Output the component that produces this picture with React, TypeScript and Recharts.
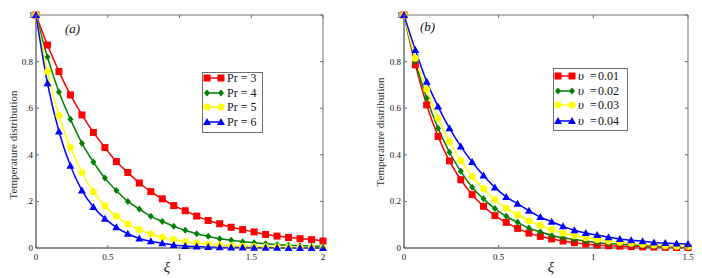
import React from "react";
import {
  LineChart,
  Line,
  XAxis,
  YAxis,
  Legend,
  Label,
  ReferenceArea
} from "recharts";

const FONT = '"Liberation Serif", "Times New Roman", serif';
const FRAME = "#6e6e6e";

// panel (a): xi values and Pr curves
const xiA = [0, 0.08, 0.16, 0.24, 0.32, 0.4, 0.48, 0.56, 0.64, 0.72, 0.8, 0.88, 0.96, 1.04, 1.12, 1.2, 1.28, 1.36, 1.44, 1.52, 1.6, 1.68, 1.76, 1.84, 1.92, 2];
const pr3 = [1, 0.871, 0.757, 0.657, 0.571, 0.496, 0.431, 0.371, 0.324, 0.279, 0.242, 0.211, 0.182, 0.16, 0.137, 0.118, 0.104, 0.089, 0.079, 0.069, 0.058, 0.051, 0.045, 0.04, 0.036, 0.03];
const pr4 = [1, 0.82, 0.67, 0.553, 0.45, 0.369, 0.3, 0.247, 0.2, 0.167, 0.136, 0.114, 0.093, 0.076, 0.061, 0.05, 0.04, 0.033, 0.027, 0.023, 0.018, 0.014, 0.012, 0.01, 0.008, 0.007];
const pr5 = [1, 0.757, 0.569, 0.431, 0.324, 0.241, 0.181, 0.136, 0.103, 0.079, 0.06, 0.046, 0.036, 0.027, 0.021, 0.016, 0.013, 0.01, 0.008, 0.006, 0.005, 0.004, 0.003, 0.002, 0.002, 0.001];
const pr6 = [1, 0.707, 0.5, 0.353, 0.247, 0.176, 0.126, 0.089, 0.061, 0.041, 0.029, 0.02, 0.013, 0.009, 0.006, 0.004, 0.003, 0.002, 0.002, 0.001, 0.001, 0.001, 0, 0, 0, 0];

// panel (b): xi values and upsilon curves
const xiB = [0, 0.06, 0.12, 0.18, 0.24, 0.3, 0.36, 0.42, 0.48, 0.54, 0.6, 0.66, 0.72, 0.78, 0.84, 0.9, 0.96, 1.02, 1.08, 1.14, 1.2, 1.26, 1.32, 1.38, 1.44, 1.5];
const nu1 = [1, 0.786, 0.614, 0.479, 0.374, 0.293, 0.229, 0.179, 0.139, 0.11, 0.084, 0.064, 0.05, 0.039, 0.03, 0.023, 0.017, 0.013, 0.01, 0.008, 0.006, 0.005, 0.004, 0.003, 0.002, 0.002];
const nu2 = [1, 0.8, 0.643, 0.514, 0.411, 0.329, 0.261, 0.211, 0.169, 0.136, 0.11, 0.086, 0.069, 0.054, 0.044, 0.036, 0.029, 0.023, 0.019, 0.016, 0.013, 0.01, 0.008, 0.007, 0.005, 0.004];
const nu3 = [1, 0.814, 0.681, 0.557, 0.457, 0.376, 0.307, 0.254, 0.207, 0.171, 0.143, 0.117, 0.097, 0.079, 0.064, 0.053, 0.044, 0.036, 0.03, 0.025, 0.02, 0.016, 0.013, 0.01, 0.008, 0.006];
const nu4 = [1, 0.85, 0.714, 0.607, 0.514, 0.436, 0.369, 0.311, 0.26, 0.219, 0.19, 0.16, 0.133, 0.113, 0.093, 0.076, 0.064, 0.056, 0.046, 0.039, 0.033, 0.029, 0.024, 0.021, 0.019, 0.017];

const xTicksA = [0, 0.5, 1, 1.5, 2];
const xTicksB = [0, 0.5, 1, 1.5];
const yTicks = [0, 0.2, 0.4, 0.6, 0.8, 1];
const yLabelsA = ["0", ".2", ".4", ".6", "0.8", "1"];
const yLabelsB = ["0", "0.2", "0.4", "0.6", "0.8", "1"];

const namesA = ["Pr = 3", "Pr = 4", "Pr = 5", "Pr = 6"];
const namesB = ["0.01", "0.02", "0.03", "0.04"];

type Shape = "square" | "diamond" | "circle" | "triangle";
const colors = ["#ff0000", "#008000", "#ffff00", "#0000ff"];
const shapes: Shape[] = ["square", "diamond", "circle", "triangle"];

function Marker({ shape, cx, cy, color }: { shape: Shape; cx: number; cy: number; color: string }) {
  if (shape === "square") return <rect x={cx - 3.5} y={cy - 3.5} width={7} height={7} fill={color} />;
  if (shape === "diamond")
    return <polygon points={`${cx},${cy - 3.5} ${cx + 3},${cy} ${cx},${cy + 3.5} ${cx - 3},${cy}`} fill={color} />;
  if (shape === "circle") return <circle cx={cx} cy={cy} r={3.5} fill={color} />;
  return <polygon points={`${cx},${cy - 4} ${cx + 4},${cy + 3} ${cx - 4},${cy + 3}`} fill={color} />;
}

type PanelProps = {
  x: number;
  width: number;
  plot: { top: number; right: number; bottom: number; left: number };
  xs: number[];
  ys: number[][];
  xMax: number;
  xTicks: number[];
  yLabels: string[];
  names: string[];
  greek: boolean;
  tag: string;
  tagX: number;
  tagY: number;
  yLabX: number;
  yLabY: number;
  xLabX: number;
  legend: { left: number; top: number; w: number; h: number; rows: number[] };
};

const H = 278;
const serif = { fontFamily: FONT };

function Panel(p: PanelProps) {
  const data = p.xs.map((x, i) => ({
    x,
    s0: p.ys[0][i],
    s1: p.ys[1][i],
    s2: p.ys[2][i],
    s3: p.ys[3][i]
  }));
  const top = p.plot.top;
  const bottom = H - p.plot.bottom;
  const left = p.plot.left;
  const right = p.width - p.plot.right;

  const xTick = (t: any) => (
    <g>
      <line x1={t.x} x2={t.x} y1={bottom} y2={bottom - 3} stroke={FRAME} />
      <line x1={t.x} x2={t.x} y1={top} y2={top + 3} stroke={FRAME} />
      <text x={t.x} y={bottom + 12} textAnchor="middle" fontSize={9} style={serif} fill="#111">
        {String(t.payload.value)}
      </text>
    </g>
  );
  const yTick = (t: any) => (
    <g>
      <line x1={left} x2={left + 3} y1={t.y} y2={t.y} stroke={FRAME} />
      <line x1={right} x2={right - 3} y1={t.y} y2={t.y} stroke={FRAME} />
      <text x={left - 3} y={t.y + 3} textAnchor="end" fontSize={9} style={serif} fill="#111">
        {p.yLabels[yTicks.indexOf(t.payload.value)]}
      </text>
    </g>
  );

  const lg = p.legend;
  const legendContent = () => (
    <svg width={lg.w + 2} height={lg.h + 2} style={{ display: "block" }}>
      <rect x={0.5} y={0.5} width={lg.w} height={lg.h} fill="#fff" stroke={FRAME} />
      {p.names.map((n, i) => (
        <g key={n}>
          <line x1={3} x2={20} y1={lg.rows[i]} y2={lg.rows[i]} stroke={colors[i]} strokeWidth={1.5} />
          <Marker shape={shapes[i]} cx={5} cy={lg.rows[i]} color={colors[i]} />
          <Marker shape={shapes[i]} cx={19} cy={lg.rows[i]} color={colors[i]} />
          {p.greek ? (
            <text y={lg.rows[i] + 4} fontSize={12} style={serif} fill="#111">
              <tspan x={25} fontStyle="italic" fontSize={13}>υ</tspan>
              <tspan x={37}>=</tspan>
              <tspan x={45}>{n}</tspan>
            </text>
          ) : (
            <text x={25} y={lg.rows[i] + 4} fontSize={12} style={serif} fill="#111">
              {n}
            </text>
          )}
        </g>
      ))}
    </svg>
  );

  return (
    <div style={{ position: "absolute", left: p.x, top: 0 }}>
      <LineChart
        width={p.width}
        height={H}
        data={data}
        margin={{ top: p.plot.top, right: p.plot.right, bottom: 0, left: 0 }}
      >
        <ReferenceArea x1={0} x2={p.xMax} y1={0} y2={1} fill="none" stroke={FRAME} strokeWidth={1} />
        <XAxis
          dataKey="x"
          type="number"
          domain={[0, p.xMax]}
          ticks={p.xTicks}
          height={p.plot.bottom}
          tickLine={false}
          axisLine={{ stroke: FRAME }}
          tick={xTick}
          interval={0}
        >
          <Label
            content={() => (
              <g style={serif}>
                <text x={p.xLabX} y={272} textAnchor="middle" fontSize={15} fontStyle="italic" fill="#222">
                  ξ
                </text>
                <text x={p.tagX} y={p.tagY} fontSize={13} fontStyle="italic" fill="#111">
                  {p.tag}
                </text>
              </g>
            )}
          />
        </XAxis>
        <YAxis
          type="number"
          domain={[0, 1]}
          ticks={yTicks}
          width={p.plot.left}
          tickLine={false}
          axisLine={{ stroke: FRAME }}
          tick={yTick}
          interval={0}
        >
          <Label
            content={() => (
              <text
                x={p.yLabX}
                y={p.yLabY}
                transform={`rotate(-90 ${p.yLabX} ${p.yLabY})`}
                textAnchor="middle"
                dominantBaseline="central"
                fontSize={11}
                style={serif}
                fill="#333"
              >
                Temperature distribution
              </text>
            )}
          />
        </YAxis>
        {[0, 1, 2, 3].map((i) => (
          <Line
            key={i}
            dataKey={`s${i}`}
            type="monotone"
            stroke={colors[i]}
            strokeWidth={1.5}
            isAnimationActive={false}
            dot={(d: any) => <Marker key={`d${i}-${d.index}`} shape={shapes[i]} cx={d.cx} cy={d.cy} color={colors[i]} />}
            activeDot={false}
          />
        ))}
        <Legend
          layout="vertical"
          align="center"
          verticalAlign="middle"
          content={legendContent}
          wrapperStyle={{ left: lg.left, top: lg.top, width: lg.w + 2, height: lg.h + 2 }}
        />
      </LineChart>
    </div>
  );
}

export default function App() {
  return (
    <div style={{ position: "absolute", left: 0, top: 0, width: 702, height: 278, background: "#fff" }}>
      <Panel
        x={0}
        width={351}
        plot={{ top: 15, right: 28, bottom: 30, left: 36 }}
        xs={xiA}
        ys={[pr3, pr4, pr5, pr6]}
        xMax={2}
        xTicks={xTicksA}
        yLabels={yLabelsA}
        names={namesA}
        greek={false}
        tag="(a)"
        tagX={65}
        tagY={33}
        yLabX={13}
        yLabY={145}
        xLabX={167}
        legend={{ left: 202, top: 72, w: 60, h: 60, rows: [6, 21, 35, 50] }}
      />
      <Panel
        x={351}
        width={351}
        plot={{ top: 15, right: 14, bottom: 30, left: 53 }}
        xs={xiB}
        ys={[nu1, nu2, nu3, nu4]}
        xMax={1.5}
        xTicks={xTicksB}
        yLabels={yLabelsB}
        names={namesB}
        greek={true}
        tag="(b)"
        tagX={69}
        tagY={31}
        yLabX={29}
        yLabY={132}
        xLabX={200}
        legend={{ left: 202, top: 68, w: 74, h: 62, rows: [8, 23, 37, 53] }}
      />
    </div>
  );
}
